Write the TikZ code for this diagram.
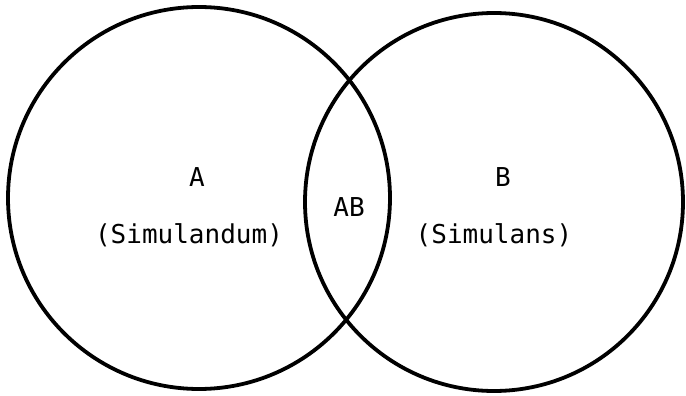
\documentclass[tikz,border=0pt]{standalone}
\usepackage{fontspec}
\setmonofont{DejaVu Sans Mono}

\begin{document}
\begin{tikzpicture}[x=1pt, y=-1pt, line width=3.8pt,
  lbl/.style={font=\ttfamily\fontsize{26}{30}\selectfont, inner sep=0pt}]
  \useasboundingbox (0,0) rectangle (686,396);
  \coordinate (OA) at (199,198);
  \coordinate (OB) at (494,202);
  \draw (OA) circle (191);
  \draw (OB) circle (189);
  \node[lbl] (a)    at (197,177) {A};
  \node[lbl] (asub) at (189,235) {(Simulandum)};
  \node[lbl] (ab)   at (349,207) {AB};
  \node[lbl] (b)    at (503,177) {B};
  \node[lbl] (bsub) at (494,235) {(Simulans)};
\end{tikzpicture}
\end{document}
